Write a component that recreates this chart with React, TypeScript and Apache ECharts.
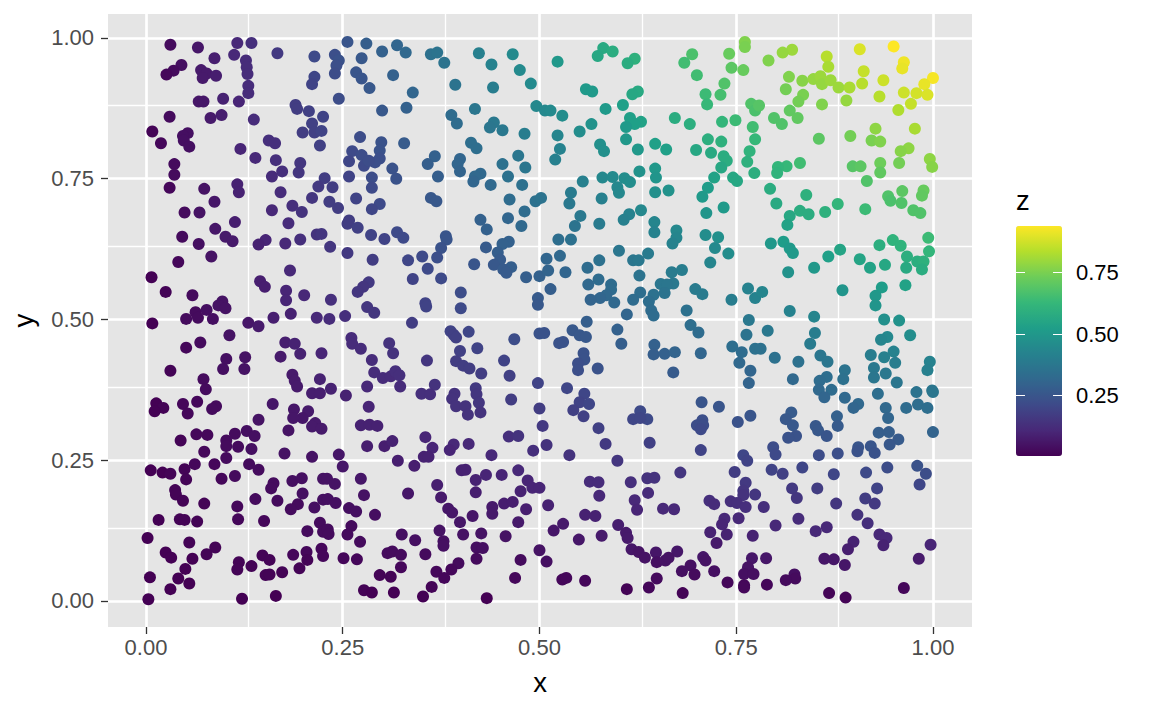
import React, { useEffect, useRef } from "react";
import * as echarts from "echarts";

const xTicks = [0, 0.25, 0.5, 0.75, 1];
const yTicks = [0, 0.25, 0.5, 0.75, 1];
const xMinor = [0.125, 0.375, 0.625, 0.875];
const yMinor = [0.125, 0.375, 0.625, 0.875];
const legendTicks = [0.25, 0.5, 0.75];
const viridis = ["#440154", "#482878", "#3E4A89", "#31688E", "#26828E", "#1F9E89", "#35B779", "#6DCD59", "#B4DE2C", "#FDE725"];

const topLeft = [[.031,.988,.03],[.066,.983,.06],[.116,.991,.11],[.134,.991,.13],[.167,.973,.16],[.214,.967,.21],[.112,.970,.11],[.087,.964,.08],[.127,.960,.12],[.045,.952,.04],[.035,.942,.03],[.026,.935,.02],[.070,.943,.07],[.077,.937,.07],[.072,.929,.07],[.089,.933,.08],[.128,.948,.12],[.129,.936,.12],[.214,.931,.20],[.211,.918,.19],[.130,.915,.12],[.130,.902,.12],[.067,.887,.06],[.073,.887,.06],[.098,.892,.09],[.118,.887,.10],[.190,.881,.17],[.192,.874,.17],[.207,.870,.18],[.030,.860,.03],[.082,.858,.07],[.096,.863,.08],[.137,.855,.12],[.225,.860,.19],[.211,.848,.18],[.008,.834,.01],[.053,.831,.04],[.047,.826,.04],[.048,.818,.04],[.055,.807,.04],[.019,.813,.02],[.199,.832,.17],[.214,.832,.18],[.223,.835,.19],[.156,.818,.13],[.164,.813,.13],[.221,.809,.18],[.120,.803,.10],[.139,.787,.11],[.165,.783,.13],[.196,.778,.15],[.036,.776,.03],[.036,.757,.03],[.173,.763,.13],[.194,.761,.15],[.160,.754,.12],[.030,.734,.02],[.074,.732,.05],[.116,.740,.09],[.118,.726,.09],[.227,.751,.17],[.219,.736,.16],[.171,.726,.12],[.211,.716,.15],[.087,.709,.06],[.160,.694,.11],[.186,.702,.13],[.198,.691,.14],[.049,.690,.03],[.068,.690,.05]];

const topMidLeft = [[.256,.993,.25],[.280,.990,.28],[.319,.987,.31],[.330,.974,.32],[.300,.976,.29],[.240,.970,.23],[.245,.960,.24],[.242,.951,.23],[.240,.937,.22],[.274,.964,.26],[.267,.939,.25],[.274,.928,.25],[.314,.934,.29],[.284,.911,.26],[.339,.903,.31],[.245,.892,.22],[.300,.871,.26],[.331,.876,.29],[.362,.971,.35],[.370,.974,.36],[.379,.956,.36],[.423,.973,.41],[.439,.953,.42],[.466,.971,.45],[.475,.943,.45],[.489,.919,.45],[.393,.917,.36],[.441,.912,.40],[.418,.874,.37],[.496,.879,.44],[.388,.863,.33],[.395,.848,.33],[.442,.850,.38],[.437,.841,.37],[.453,.836,.38],[.481,.830,.40],[.272,.824,.22],[.299,.815,.24],[.328,.813,.27],[.262,.799,.21],[.297,.800,.24],[.274,.792,.22],[.258,.781,.20],[.297,.786,.23],[.277,.773,.21],[.291,.779,.23],[.283,.782,.22],[.313,.768,.24],[.318,.750,.24],[.258,.754,.19],[.287,.752,.22],[.287,.734,.21],[.367,.790,.29],[.358,.776,.28],[.371,.754,.28],[.413,.814,.34],[.420,.804,.34],[.399,.785,.31],[.396,.776,.31],[.399,.763,.30],[.473,.791,.37],[.453,.776,.35],[.482,.770,.37],[.460,.754,.35],[.425,.759,.32],[.418,.754,.32],[.416,.745,.31],[.438,.739,.32],[.478,.739,.35],[.237,.735,.17],[.233,.709,.17],[.244,.698,.17],[.267,.715,.19],[.297,.705,.21],[.287,.696,.20],[.362,.716,.26],[.369,.710,.26],[.462,.713,.33],[.495,.710,.35],[.481,.692,.33]];

const topMidRight = [[.523,.958,.50],[.581,.982,.57],[.593,.976,.58],[.574,.968,.56],[.621,.963,.60],[.612,.955,.58],[.694,.971,.67],[.684,.956,.65],[.741,.972,.72],[.761,.993,.76],[.761,.984,.75],[.744,.947,.70],[.759,.943,.72],[.700,.934,.65],[.735,.919,.68],[.559,.909,.51],[.567,.905,.51],[.625,.905,.57],[.618,.900,.56],[.711,.900,.64],[.730,.899,.66],[.713,.882,.63],[.769,.883,.68],[.774,.871,.67],[.606,.881,.53],[.584,.874,.51],[.507,.871,.44],[.514,.871,.45],[.529,.862,.46],[.672,.858,.58],[.691,.847,.59],[.732,.851,.62],[.749,.854,.64],[.771,.842,.65],[.566,.847,.48],[.551,.834,.46],[.523,.827,.43],[.615,.858,.53],[.629,.851,.54],[.621,.847,.53],[.610,.842,.51],[.610,.820,.50],[.577,.811,.47],[.582,.799,.47],[.625,.802,.50],[.647,.812,.53],[.661,.802,.53],[.526,.803,.42],[.520,.784,.41],[.714,.820,.59],[.731,.816,.60],[.774,.820,.63],[.699,.801,.56],[.718,.796,.57],[.767,.799,.61],[.734,.790,.58],[.738,.782,.58],[.764,.780,.60],[.731,.770,.56],[.647,.768,.50],[.627,.763,.48],[.648,.752,.49],[.722,.752,.54],[.773,.760,.59],[.746,.752,.56],[.751,.746,.56],[.580,.752,.44],[.593,.753,.45],[.608,.751,.46],[.615,.744,.46],[.555,.745,.41],[.599,.735,.44],[.601,.725,.44],[.540,.725,.39],[.538,.706,.38],[.502,.716,.36],[.647,.726,.47],[.664,.729,.48],[.714,.734,.52],[.707,.718,.51],[.579,.715,.41],[.734,.699,.51],[.712,.689,.49],[.629,.694,.44],[.614,.687,.42],[.552,.684,.38]];

const topRight = [[.950,.985,.94],[.907,.980,.89],[.821,.979,.80],[.809,.974,.79],[.791,.960,.76],[.865,.967,.84],[.867,.949,.82],[.963,.957,.92],[.961,.946,.91],[.912,.941,.86],[.817,.931,.76],[.834,.924,.77],[.848,.927,.79],[.857,.932,.80],[.859,.918,.79],[.870,.925,.80],[.880,.912,.80],[.894,.912,.82],[.910,.919,.84],[.937,.925,.87],[1.000,.929,.93],[.989,.918,.91],[.813,.909,.74],[.835,.899,.75],[.829,.887,.74],[.932,.896,.84],[.963,.903,.87],[.979,.902,.88],[.993,.899,.89],[.890,.889,.79],[.859,.882,.76],[.972,.883,.86],[.956,.872,.83],[.779,.880,.69],[.818,.871,.71],[.828,.858,.71],[.798,.858,.68],[.808,.847,.68],[.855,.821,.70],[.895,.826,.74],[.927,.839,.78],[.977,.839,.82],[.922,.818,.75],[.933,.816,.76],[.969,.804,.78],[.959,.799,.77],[.957,.778,.74],[.933,.778,.73],[.933,.761,.71],[.996,.785,.78],[.999,.771,.77],[.898,.772,.69],[.908,.772,.70],[.831,.778,.65],[.814,.772,.63],[.803,.771,.62],[.802,.760,.61],[.916,.746,.68],[.793,.732,.58],[.839,.721,.60],[.801,.706,.57],[.831,.693,.58],[.842,.687,.58],[.818,.684,.56],[.863,.691,.60],[.879,.705,.62],[.914,.696,.64],[.943,.719,.68],[.946,.711,.67],[.961,.728,.70],[.960,.707,.68],[.988,.729,.72],[.986,.720,.71],[.975,.694,.68],[.984,.689,.68]];

const midLeft = [[.113,.673,.08],[.046,.647,.03],[.088,.661,.06],[.067,.634,.04],[.101,.647,.07],[.110,.639,.07],[.181,.671,.12],[.152,.641,.10],[.143,.633,.09],[.177,.635,.11],[.196,.642,.13],[.217,.651,.14],[.223,.652,.15],[.083,.612,.05],[.041,.602,.02],[.007,.575,.00],[.183,.587,.11],[.145,.568,.08],[.151,.558,.08],[.025,.549,.01],[.059,.543,.03],[.178,.551,.10],[.178,.534,.10],[.201,.543,.11],[.097,.532,.05],[.092,.525,.05],[.101,.520,.05],[.063,.513,.03],[.077,.517,.04],[.051,.501,.03],[.066,.503,.03],[.085,.501,.04],[.008,.493,.00],[.184,.510,.09],[.162,.503,.08],[.217,.503,.11],[.130,.494,.06],[.143,.488,.07],[.106,.472,.05],[.069,.459,.03],[.051,.450,.02],[.177,.459,.08],[.189,.457,.09],[.196,.439,.09],[.171,.434,.07],[.223,.440,.10],[.102,.430,.04],[.126,.433,.05],[.098,.412,.04],[.125,.412,.05],[.031,.409,.01],[.186,.402,.07],[.189,.391,.07],[.192,.381,.07],[.221,.394,.09],[.073,.394,.03],[.076,.376,.03],[.211,.369,.08],[.221,.369,.08],[.013,.351,.00],[.022,.343,.01],[.011,.337,.00],[.047,.350,.02],[.053,.333,.02],[.065,.354,.02],[.089,.346,.03],[.084,.341,.03],[.161,.350,.06],[.188,.340,.06],[.206,.337,.07],[.143,.322,.05],[.199,.325,.06],[.187,.325,.06],[.215,.316,.07]];

const midMidLeft = [[.256,.670,.17],[.258,.676,.17],[.269,.663,.18],[.286,.650,.19],[.303,.643,.19],[.319,.655,.21],[.327,.645,.21],[.234,.629,.15],[.256,.618,.16],[.288,.606,.17],[.381,.648,.25],[.382,.642,.25],[.375,.627,.24],[.370,.610,.23],[.351,.612,.21],[.333,.605,.20],[.358,.590,.21],[.339,.572,.19],[.375,.573,.21],[.425,.677,.29],[.460,.680,.31],[.433,.660,.29],[.477,.666,.32],[.432,.628,.27],[.461,.638,.29],[.453,.634,.29],[.447,.619,.28],[.450,.606,.27],[.417,.598,.25],[.442,.597,.26],[.464,.593,.28],[.454,.589,.27],[.458,.583,.27],[.483,.575,.28],[.500,.577,.29],[.283,.566,.16],[.276,.558,.15],[.269,.549,.15],[.400,.548,.22],[.235,.535,.13],[.498,.538,.27],[.498,.526,.26],[.355,.529,.19],[.356,.523,.19],[.400,.520,.21],[.281,.522,.15],[.290,.512,.15],[.233,.501,.12],[.253,.506,.13],[.338,.494,.17],[.387,.479,.19],[.391,.473,.18],[.394,.468,.18],[.410,.478,.20],[.468,.465,.22],[.500,.475,.24],[.261,.467,.12],[.262,.457,.12],[.273,.448,.12],[.309,.458,.14],[.314,.440,.14],[.399,.444,.18],[.421,.449,.19],[.287,.428,.12],[.357,.427,.15],[.394,.426,.17],[.403,.418,.17],[.411,.413,.17],[.455,.427,.19],[.426,.404,.17],[.462,.400,.18],[.290,.406,.12],[.301,.396,.12],[.311,.399,.12],[.317,.408,.13],[.322,.401,.13],[.323,.381,.12],[.498,.387,.19],[.367,.384,.14],[.235,.377,.09],[.281,.381,.11],[.350,.368,.13],[.361,.367,.13],[.254,.365,.09],[.419,.378,.16],[.420,.367,.15],[.392,.368,.14],[.389,.359,.14],[.423,.352,.15],[.464,.358,.17],[.283,.345,.10],[.394,.346,.14],[.406,.346,.14],[.425,.335,.14],[.409,.331,.14],[.500,.342,.17]];

const midMidRight = [[.576,.670,.39],[.545,.666,.36],[.607,.677,.41],[.646,.673,.43],[.646,.655,.42],[.674,.658,.44],[.674,.645,.43],[.669,.635,.42],[.711,.650,.46],[.727,.646,.47],[.723,.627,.45],[.740,.617,.46],[.717,.601,.43],[.524,.642,.34],[.540,.642,.35],[.601,.622,.37],[.638,.617,.39],[.526,.613,.32],[.509,.608,.31],[.576,.605,.35],[.619,.605,.37],[.626,.605,.38],[.561,.592,.33],[.681,.588,.40],[.668,.584,.39],[.533,.584,.31],[.511,.587,.30],[.627,.578,.36],[.575,.571,.33],[.562,.562,.32],[.591,.562,.33],[.591,.553,.33],[.670,.564,.38],[.654,.563,.37],[.662,.562,.37],[.659,.547,.36],[.514,.554,.28],[.698,.554,.39],[.707,.545,.39],[.765,.555,.42],[.774,.538,.42],[.744,.535,.40],[.628,.548,.34],[.585,.543,.32],[.577,.538,.31],[.565,.535,.30],[.619,.535,.33],[.645,.544,.35],[.595,.530,.32],[.639,.532,.34],[.642,.516,.33],[.645,.507,.33],[.611,.509,.31],[.687,.516,.35],[.766,.499,.38],[.560,.496,.28],[.692,.490,.34],[.702,.477,.33],[.763,.473,.36],[.599,.482,.29],[.542,.481,.26],[.551,.472,.26],[.559,.469,.26],[.506,.476,.24],[.604,.457,.28],[.525,.458,.24],[.530,.460,.24],[.646,.455,.29],[.745,.452,.34],[.757,.442,.33],[.774,.448,.35],[.645,.438,.28],[.659,.439,.29],[.672,.442,.30],[.705,.440,.31],[.556,.440,.24],[.557,.429,.24],[.549,.422,.23],[.549,.410,.23],[.574,.413,.24],[.754,.423,.32],[.768,.409,.31],[.670,.406,.27],[.766,.387,.30],[.535,.378,.20],[.557,.368,.20],[.551,.353,.19],[.563,.350,.20],[.543,.339,.18],[.556,.328,.18],[.706,.353,.25],[.728,.345,.25],[.768,.329,.25],[.628,.337,.21],[.619,.323,.20],[.637,.323,.21],[.628,.325,.20],[.707,.321,.23],[.752,.318,.24]];

const midRight = [[.815,.668,.54],[.794,.635,.50],[.810,.638,.52],[.818,.626,.51],[.822,.618,.51],[.867,.612,.53],[.882,.624,.55],[.907,.607,.55],[.932,.632,.59],[.949,.641,.61],[.959,.631,.61],[.994,.645,.64],[.995,.621,.62],[.967,.612,.59],[.980,.603,.59],[.988,.603,.60],[.920,.592,.54],[.939,.597,.56],[.966,.592,.57],[.986,.589,.58],[.816,.584,.48],[.849,.592,.50],[.965,.561,.54],[.885,.552,.49],[.935,.557,.52],[.927,.542,.50],[.927,.525,.49],[.783,.549,.43],[.818,.515,.42],[.849,.505,.43],[.938,.500,.47],[.957,.498,.48],[.971,.472,.46],[.790,.480,.38],[.850,.476,.40],[.844,.457,.39],[.942,.469,.44],[.934,.464,.43],[.781,.448,.35],[.799,.432,.35],[.921,.437,.40],[.950,.443,.42],[.938,.433,.41],[.952,.423,.40],[.857,.436,.37],[.866,.425,.37],[.829,.425,.35],[.996,.425,.42],[.993,.410,.41],[.925,.414,.38],[.925,.397,.37],[.940,.404,.38],[.888,.410,.36],[.886,.394,.35],[.865,.398,.34],[.856,.391,.33],[.822,.394,.32],[.954,.388,.37],[.999,.374,.37],[1.000,.371,.37],[.979,.371,.36],[.930,.368,.34],[.871,.375,.33],[.855,.375,.32],[.862,.362,.31],[.888,.361,.32],[.905,.350,.32],[.899,.343,.31],[.940,.343,.32],[.966,.343,.33],[.981,.349,.34],[.993,.343,.34],[.820,.335,.27],[.813,.323,.26],[.878,.328,.29],[.943,.325,.31]];

const bottomLeft = [[.044,.285,.01],[.064,.296,.02],[.078,.295,.02],[.102,.285,.03],[.102,.275,.03],[.113,.297,.03],[.128,.302,.04],[.138,.293,.04],[.181,.303,.05],[.211,.310,.07],[.223,.306,.07],[.074,.265,.02],[.117,.274,.03],[.134,.270,.04],[.176,.262,.05],[.211,.256,.05],[.006,.232,.00],[.021,.228,.00],[.031,.226,.01],[.049,.234,.01],[.051,.216,.01],[.062,.243,.02],[.087,.243,.02],[.102,.254,.03],[.131,.243,.03],[.143,.233,.03],[.096,.217,.02],[.113,.222,.03],[.162,.209,.03],[.159,.200,.03],[.186,.213,.04],[.198,.218,.04],[.225,.217,.05],[.037,.197,.01],[.038,.189,.01],[.047,.178,.01],[.199,.191,.04],[.074,.173,.01],[.139,.181,.03],[.167,.178,.03],[.193,.172,.03],[.184,.163,.03],[.214,.166,.04],[.225,.180,.04],[.116,.168,.02],[.117,.145,.02],[.016,.144,.00],[.043,.145,.01],[.049,.144,.01],[.065,.141,.01],[.150,.142,.02],[.221,.139,.03],[.205,.124,.03],[.225,.123,.03],[.002,.112,.00],[.055,.104,.01],[.088,.095,.01],[.077,.083,.01],[.025,.086,.00],[.032,.077,.00],[.059,.075,.00],[.148,.081,.01],[.157,.073,.01],[.187,.082,.02],[.204,.087,.02],[.205,.073,.01],[.223,.093,.02],[.225,.080,.02],[.118,.069,.01],[.116,.056,.01],[.134,.062,.01],[.050,.057,.00],[.005,.042,.00],[.041,.040,.00],[.055,.031,.00],[.031,.021,.00],[.152,.046,.01],[.157,.047,.01],[.173,.051,.01],[.195,.058,.01],[.003,.003,.00],[.122,.004,.00],[.165,.009,.00]];

const bottomMidLeft = [[.273,.312,.09],[.284,.313,.09],[.294,.311,.09],[.281,.275,.08],[.303,.275,.08],[.313,.284,.09],[.355,.291,.10],[.364,.272,.10],[.353,.256,.09],[.359,.256,.09],[.391,.278,.11],[.386,.268,.10],[.410,.279,.11],[.461,.292,.13],[.473,.293,.14],[.492,.267,.13],[.245,.260,.06],[.439,.259,.11],[.250,.239,.06],[.320,.249,.08],[.341,.240,.08],[.230,.217,.05],[.240,.208,.05],[.273,.217,.06],[.370,.206,.08],[.401,.232,.09],[.406,.233,.09],[.419,.215,.09],[.432,.224,.10],[.452,.224,.10],[.473,.232,.11],[.485,.214,.10],[.491,.201,.10],[.500,.201,.10],[.476,.195,.09],[.419,.193,.08],[.375,.184,.07],[.277,.188,.05],[.333,.191,.06],[.231,.181,.04],[.241,.174,.04],[.258,.165,.04],[.267,.159,.04],[.291,.153,.04],[.384,.164,.06],[.389,.157,.06],[.415,.151,.06],[.440,.167,.07],[.440,.155,.07],[.455,.173,.08],[.466,.176,.08],[.483,.163,.08],[.399,.140,.06],[.473,.140,.07],[.231,.127,.03],[.232,.119,.03],[.261,.133,.03],[.256,.118,.03],[.325,.118,.04],[.342,.108,.04],[.373,.125,.05],[.403,.118,.05],[.426,.120,.05],[.457,.115,.05],[.378,.106,.04],[.378,.098,.04],[.272,.105,.03],[.420,.095,.04],[.428,.094,.04],[.500,.090,.05],[.307,.085,.03],[.313,.088,.03],[.324,.082,.03],[.355,.083,.03],[.251,.076,.02],[.268,.074,.02],[.420,.075,.03],[.476,.073,.03],[.397,.067,.03],[.388,.056,.02],[.324,.060,.02],[.369,.052,.02],[.379,.041,.02],[.297,.046,.01],[.311,.043,.01],[.469,.041,.02],[.363,.025,.01],[.352,.008,.00],[.277,.019,.01],[.287,.015,.00],[.315,.015,.00],[.433,.005,.00]];

const bottomMidRight = [[.504,.311,.16],[.575,.307,.18],[.700,.312,.22],[.708,.312,.22],[.705,.305,.21],[.509,.277,.14],[.584,.279,.16],[.640,.281,.18],[.538,.259,.14],[.705,.268,.19],[.599,.249,.15],[.759,.259,.20],[.764,.249,.19],[.748,.229,.17],[.679,.228,.15],[.564,.212,.12],[.575,.211,.12],[.616,.211,.13],[.637,.218,.14],[.646,.219,.14],[.762,.210,.16],[.759,.196,.15],[.759,.188,.14],[.576,.187,.11],[.638,.192,.12],[.774,.189,.15],[.511,.170,.09],[.621,.179,.11],[.716,.178,.13],[.722,.172,.12],[.743,.177,.13],[.751,.174,.13],[.762,.167,.13],[.624,.162,.10],[.657,.164,.11],[.671,.163,.11],[.558,.153,.09],[.571,.151,.09],[.735,.146,.11],[.732,.136,.10],[.753,.147,.11],[.530,.137,.07],[.600,.135,.08],[.518,.125,.06],[.610,.121,.07],[.612,.112,.07],[.717,.122,.09],[.738,.118,.09],[.771,.116,.09],[.550,.109,.06],[.579,.116,.07],[.725,.103,.07],[.617,.092,.06],[.626,.087,.05],[.634,.077,.05],[.648,.086,.06],[.675,.088,.06],[.649,.069,.04],[.660,.072,.05],[.664,.077,.05],[.708,.078,.06],[.711,.072,.05],[.509,.070,.04],[.770,.076,.06],[.692,.063,.04],[.681,.053,.04],[.697,.047,.03],[.722,.053,.04],[.765,.060,.05],[.760,.048,.04],[.772,.048,.04],[.529,.038,.02],[.534,.041,.02],[.558,.036,.02],[.649,.040,.03],[.639,.024,.02],[.611,.021,.01],[.682,.014,.01],[.739,.033,.02],[.760,.028,.02],[.760,.024,.02]];

const bottomRight = [[.822,.312,.26],[.851,.311,.26],[.854,.303,.26],[.865,.293,.25],[.879,.311,.27],[.826,.293,.24],[.816,.290,.24],[.931,.299,.28],[.944,.300,.28],[.956,.287,.27],[.945,.278,.26],[1.000,.300,.30],[.797,.273,.22],[.800,.260,.21],[.855,.259,.22],[.879,.262,.23],[.905,.273,.25],[.904,.266,.24],[.921,.275,.25],[.926,.263,.24],[.980,.240,.24],[.942,.237,.22],[.991,.226,.22],[.834,.237,.20],[.795,.233,.19],[.809,.226,.18],[.874,.225,.20],[.915,.228,.21],[.983,.207,.20],[.821,.200,.16],[.853,.200,.17],[.929,.200,.19],[.827,.183,.15],[.914,.182,.17],[.926,.173,.16],[.877,.173,.15],[.785,.167,.13],[.904,.153,.14],[.829,.146,.12],[.917,.138,.13],[.800,.134,.11],[.865,.131,.11],[.851,.124,.11],[.932,.118,.11],[.941,.112,.11],[.899,.105,.09],[.937,.099,.09],[.892,.092,.08],[.997,.100,.10],[.788,.076,.06],[.862,.075,.06],[.874,.074,.06],[.888,.064,.06],[.982,.075,.07],[.824,.047,.04],[.825,.040,.03],[.813,.037,.03],[.789,.029,.02],[.963,.023,.02],[.868,.014,.01],[.889,.006,.01]];

const allPoints = [...topLeft, ...topMidLeft, ...topMidRight, ...topRight, ...midLeft, ...midMidLeft, ...midMidRight, ...midRight, ...bottomLeft, ...bottomMidLeft, ...bottomMidRight, ...bottomRight];

const FONT = "'Liberation Sans', Arial, sans-serif";

export default function App() {
  const ref = useRef<HTMLDivElement>(null);
  useEffect(() => {
    const chart = echarts.init(ref.current!, undefined, { renderer: "svg" });
    const tickFmt = (v: number) => v.toFixed(2);
    const legendAxis = (position: string, showLabel: boolean) => ({
      gridIndex: 1,
      type: "value",
      position,
      min: 0.003,
      max: 0.94,
      z: 10,
      axisLine: { show: false, onZero: false },
      splitLine: { show: false },
      axisTick: { show: true, inside: true, length: 9, customValues: legendTicks, lineStyle: { color: "#fff", width: 1 } },
      axisLabel: { show: showLabel, customValues: legendTicks, formatter: tickFmt, color: "#000", fontSize: 22, fontFamily: FONT, margin: 14 },
    });
    chart.setOption({
      animation: false,
      backgroundColor: "#fff",
      textStyle: { fontFamily: FONT },
      grid: [
        { left: 108, top: 14, width: 864, height: 613, show: true, backgroundColor: "#E5E5E5", borderWidth: 0 },
        { left: 1016, top: 226, width: 46, height: 230, show: false },
      ],
      xAxis: [
        {
          gridIndex: 0, type: "value", min: -0.0483, max: 1.0496, position: "bottom",
          name: "x", nameLocation: "middle", nameGap: 41, nameMoveOverlap: false,
          nameTextStyle: { color: "#000", fontSize: 27.5, fontFamily: FONT },
          axisLine: { show: false, onZero: false },
          axisTick: { show: true, length: 7, customValues: xTicks, lineStyle: { color: "#333", width: 1.3 } },
          axisLabel: { customValues: xTicks, formatter: tickFmt, color: "#4D4D4D", fontSize: 22, fontFamily: FONT, margin: 9 },
          splitLine: { show: true, lineStyle: { color: "#fff", width: 2.7 } },
        },
        { gridIndex: 1, type: "value", show: false, min: 0, max: 1, axisLine: { onZero: false } },
      ],
      yAxis: [
        {
          gridIndex: 0, type: "value", min: -0.0462, max: 1.0426, position: "left",
          name: "y", nameLocation: "middle", nameGap: 71, nameRotate: 90, nameMoveOverlap: false,
          nameTextStyle: { color: "#000", fontSize: 27.5, fontFamily: FONT },
          axisLine: { show: false, onZero: false },
          axisTick: { show: true, length: 7, customValues: yTicks, lineStyle: { color: "#333", width: 1.3 } },
          axisLabel: { customValues: yTicks, formatter: tickFmt, color: "#4D4D4D", fontSize: 22, fontFamily: FONT, margin: 14 },
          splitLine: { show: true, lineStyle: { color: "#fff", width: 2.7 } },
        },
        legendAxis("right", true),
        legendAxis("left", false),
      ],
      visualMap: {
        type: "continuous",
        seriesIndex: 0,
        dimension: 2,
        min: 0.003,
        max: 0.94,
        left: 1016,
        top: 226,
        itemWidth: 46,
        itemHeight: 230,
        padding: 0,
        showLabel: false,
        calculable: false,
        realtime: false,
        hoverLink: false,
        inRange: { color: viridis },
        textStyle: { color: "transparent", fontSize: 1 },
        formatter: () => "",
      },
      graphic: [
        { type: "text", left: 1016, top: 186, style: { text: "z", fill: "#000", fontSize: 27.5, fontFamily: FONT } },
      ],
      series: [
        {
          type: "scatter",
          xAxisIndex: 0,
          yAxisIndex: 0,
          symbolSize: 12,
          z: 3,
          itemStyle: { opacity: 1 },
          data: allPoints,
        },
        {
          type: "scatter",
          xAxisIndex: 0,
          yAxisIndex: 0,
          z: 1,
          data: [],
          markLine: {
            silent: true,
            z: 1,
            symbol: "none",
            label: { show: false },
            lineStyle: { color: "#fff", width: 1.35, type: "solid" },
            data: [...xMinor.map((v) => ({ xAxis: v })), ...yMinor.map((v) => ({ yAxis: v }))],
          },
        },
      ],
    });
    return () => chart.dispose();
  }, []);
  return <div ref={ref} style={{ position: "fixed", left: 0, top: 0, width: 1152, height: 711 }} />;
}
